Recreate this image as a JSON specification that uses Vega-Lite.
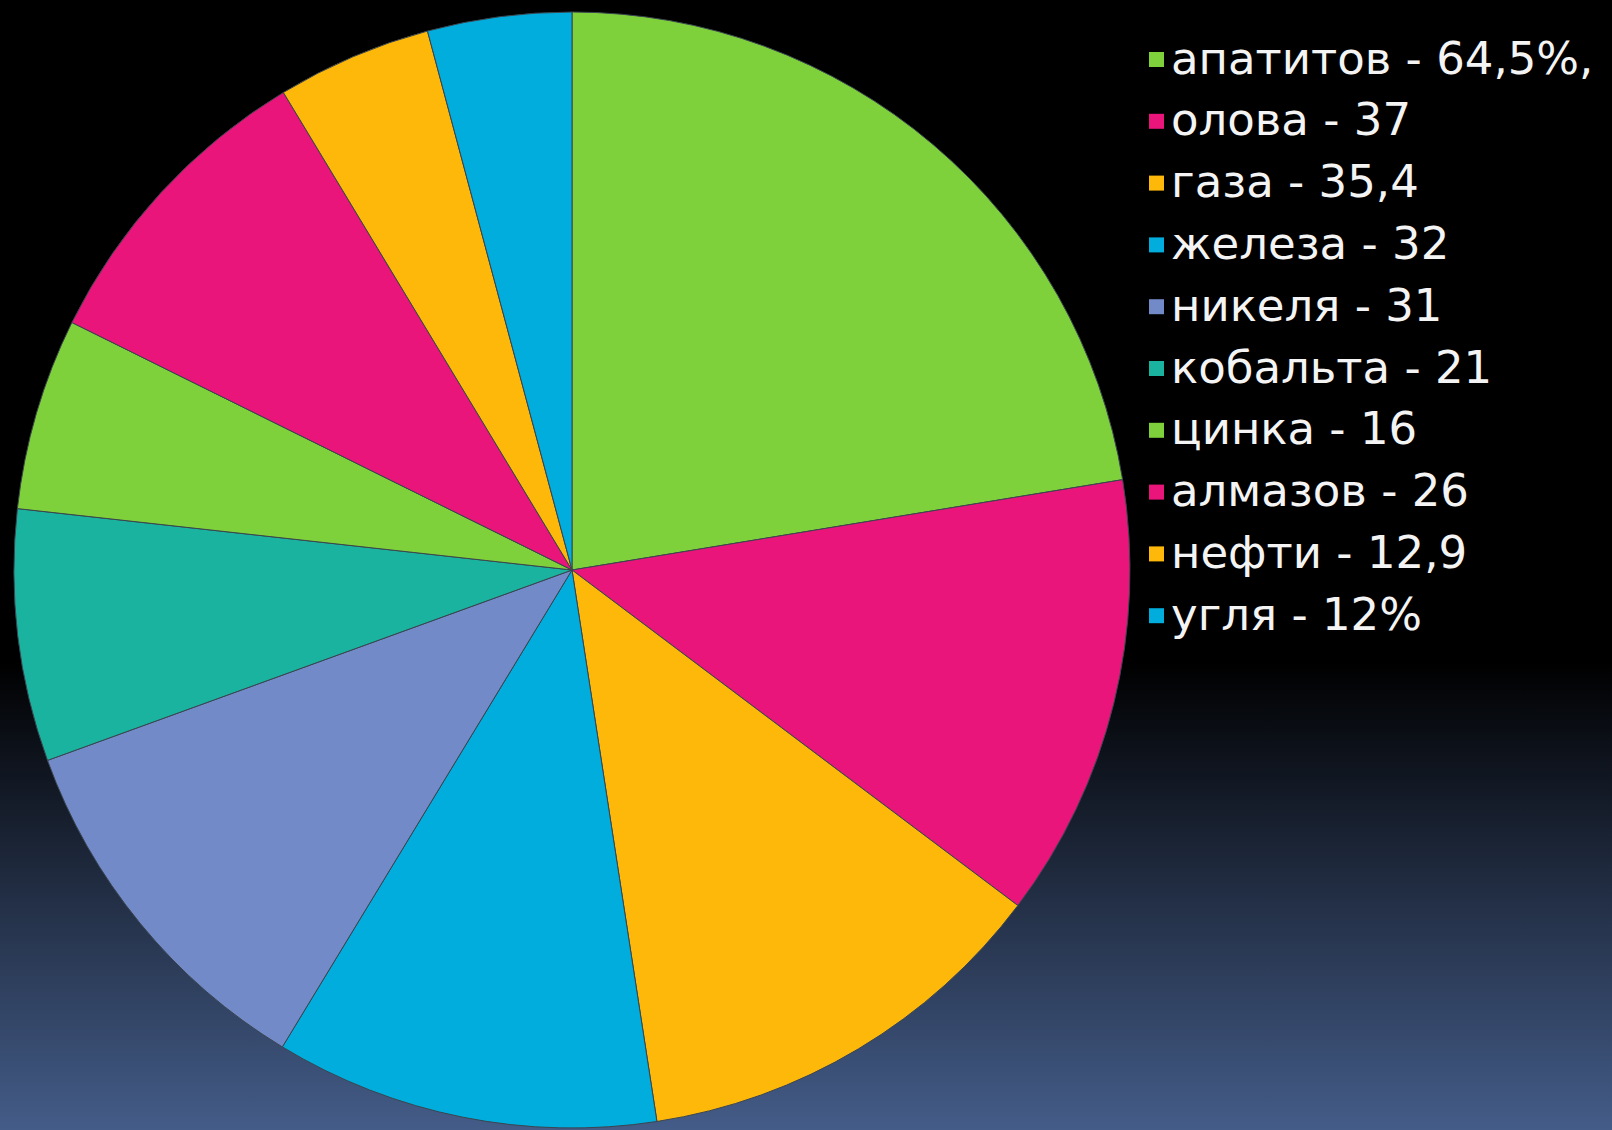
{
  "$schema": "https://vega.github.io/schema/vega-lite/v6.json",
  "padding": 0,
  "spacing": 0,
  "background": "#000000",
  "config": {"view": {"stroke": null}},
  "hconcat": [
    {
      "width": 1144,
      "height": 1140,
      "layer": [
        {
          "data": {"values": [{"bg": 1}]},
          "mark": {
            "type": "rect",
            "fill": {
              "gradient": "linear", "x1": 0, "y1": 0, "x2": 0, "y2": 1,
              "stops": [
                {"offset": 0, "color": "#000000"},
                {"offset": 0.58, "color": "#000000"},
                {"offset": 1, "color": "#455e8b"}
              ]
            }
          }
        },
        {
          "data": {
            "values": [
              {"order": 1, "label": "апатитов - 64,5%,", "value": 64.5},
              {"order": 2, "label": "олова - 37", "value": 37},
              {"order": 3, "label": "газа - 35,4", "value": 35.4},
              {"order": 4, "label": "железа - 32", "value": 32},
              {"order": 5, "label": "никеля - 31", "value": 31},
              {"order": 6, "label": "кобальта - 21", "value": 21},
              {"order": 7, "label": "цинка - 16", "value": 16},
              {"order": 8, "label": "алмазов - 26", "value": 26},
              {"order": 9, "label": "нефти - 12,9", "value": 12.9},
              {"order": 10, "label": "угля - 12%", "value": 12}
            ]
          },
          "mark": {"type": "arc", "outerRadius": 558, "stroke": "#3a4550", "strokeWidth": 1},
          "encoding": {
            "theta": {"field": "value", "type": "quantitative", "stack": true},
            "order": {"field": "order", "type": "quantitative"},
            "color": {
              "field": "label",
              "type": "nominal",
              "scale": {
                "domain": ["апатитов - 64,5%,", "олова - 37", "газа - 35,4", "железа - 32", "никеля - 31", "кобальта - 21", "цинка - 16", "алмазов - 26", "нефти - 12,9", "угля - 12%"],
                "range": ["#7fd13b", "#ea157a", "#feb80a", "#00addc", "#738ac8", "#1ab39f", "#7fd13b", "#ea157a", "#feb80a", "#00addc"]
              },
              "legend": {
                "title": null,
                "orient": "none",
                "legendX": 1134,
                "legendY": 37,
                "padding": 0,
                "symbolType": "square",
                "symbolSize": 225,
                "symbolStrokeWidth": 0,
                "symbolOpacity": 1,
                "labelFont": "DejaVu Sans",
                "labelFontSize": 45,
                "labelColor": "#f4f4f4",
                "labelOffset": -8,
                "labelLimit": 0,
                "rowPadding": 15.8
              }
            }
          }
        }
      ]
    },
    {
      "width": 468,
      "height": 1140,
      "data": {"values": [{"bg": 1}]},
      "mark": {
        "type": "rect",
        "fill": {
          "gradient": "linear", "x1": 0, "y1": 0, "x2": 0, "y2": 1,
          "stops": [
            {"offset": 0, "color": "#000000"},
            {"offset": 0.58, "color": "#000000"},
            {"offset": 1, "color": "#455e8b"}
          ]
        }
      }
    }
  ]
}
